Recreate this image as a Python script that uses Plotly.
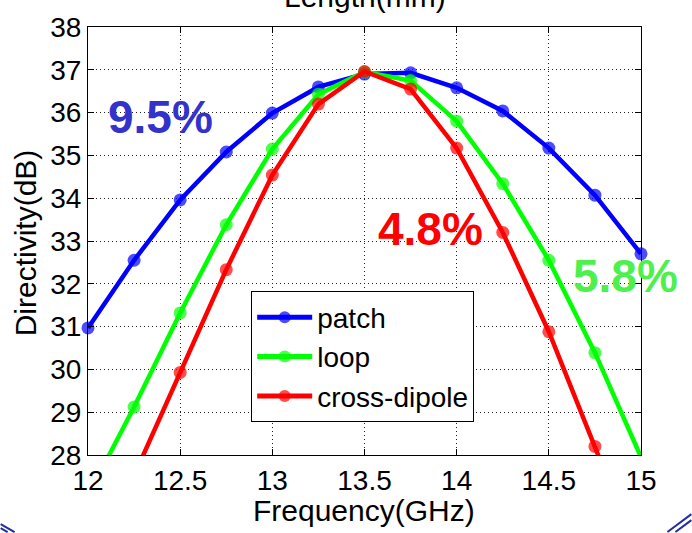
import plotly.graph_objects as go

# ---- data ----
freq = [12.0, 12.25, 12.5, 12.75, 13.0, 13.25, 13.5, 13.75, 14.0, 14.25, 14.5, 14.75, 15.0]
patch = [30.97, 32.55, 33.96, 35.08, 35.99, 36.60, 36.90, 36.93, 36.58, 36.04, 35.17, 34.07, 32.70]
loop = [27.05, 29.12, 31.32, 33.38, 35.15, 36.43, 36.95, 36.75, 35.80, 34.34, 32.55, 30.39, 27.95]
cross_dipole = [None, 27.52, 29.93, 32.33, 34.54, 36.20, 36.96, 36.55, 35.17, 33.20, 30.88, 28.20, 25.50]
series_names = ["patch", "loop", "cross-dipole"]
series_colors = ["#0000ff", "#00ff00", "#ff0000"]
x_ticks = [12, 12.5, 13, 13.5, 14, 14.5, 15]
x_ticklabels = ["12", "12.5", "13", "13.5", "14", "14.5", "15"]
y_ticks = list(range(28, 39))
bandwidth_labels = ["9.5%", "4.8%", "5.8%"]
x_title = "Frequency(GHz)"
y_title = "Directivity(dB)"
top_title = "Length(mm)"
Y_MIN, Y_MAX = 28, 38

FONT = "Liberation Sans, Arial, Helvetica, sans-serif"
W, H = 692, 533
L, R, T, B = 87.5, 641.5, 25.0, 455.5


def px2paper(px, py):
    return (px - L) / (R - L), (B - py) / (B - T)


fig = go.Figure()
for name, vals, col in zip(series_names, [patch, loop, cross_dipole], series_colors):
    sizes = [13 if (v is not None and Y_MIN <= v <= Y_MAX) else 0 for v in vals]
    fig.add_trace(go.Scatter(
        x=freq, y=vals, name=name, mode="lines+markers",
        line=dict(color=col, width=4.5),
        marker=dict(color=col, size=sizes, symbol="circle", line=dict(width=0)),
        cliponaxis=False, connectgaps=False,
    ))

axis_common = dict(
    showline=True, linecolor="black", linewidth=1, mirror="allticks",
    ticks="inside", ticklen=6, tickcolor="black", tickwidth=1,
    showgrid=True, gridcolor="#222222", gridwidth=1, griddash="1px,3px",
    zeroline=False, tickfont=dict(family=FONT, size=28, color="black"),
)

fig.update_xaxes(range=[12, 15], tickvals=x_ticks, ticktext=x_ticklabels, **axis_common)
fig.update_yaxes(range=[Y_MIN, Y_MAX], tickvals=y_ticks, **axis_common)

annots = []
for text, (cx, cy), col in zip(bandwidth_labels,
                               [(160, 116), (431, 228), (625.5, 275.5)],
                               ["rgb(51,51,204)", "#ff0000", "rgb(77,240,77)"]):
    ax_, ay_ = px2paper(cx, cy)
    annots.append(dict(text="<b>%s</b>" % text, x=ax_, y=ay_, xref="paper", yref="paper",
                       xanchor="center", yanchor="middle", showarrow=False,
                       font=dict(family=FONT, size=46, color=col)))
tx, ty = px2paper(365, -6)
annots.append(dict(text=top_title, x=tx, y=ty, xref="paper", yref="paper",
                   xanchor="center", yanchor="middle", showarrow=False,
                   font=dict(family=FONT, size=30, color="black")))
xtx, xty = px2paper(364, 511)
annots.append(dict(text=x_title, x=xtx, y=xty, xref="paper", yref="paper",
                   xanchor="center", yanchor="middle", showarrow=False, borderpad=0,
                   font=dict(family=FONT, size=30, color="black")))
ytx, yty = px2paper(25, 242)
annots.append(dict(text=y_title, x=ytx, y=yty, xref="paper", yref="paper",
                   xanchor="center", yanchor="middle", showarrow=False, textangle=-90, borderpad=0,
                   font=dict(family=FONT, size=30, color="black")))

lx, ly = px2paper(251, 291)

shapes = []
for (x0, y0, x1, y1) in [(0, 525, 14, 533), (0, 529, 7, 533), (668, 533, 692, 515), (676, 533, 692, 521)]:
    p0 = px2paper(x0, y0)
    p1 = px2paper(x1, y1)
    shapes.append(dict(type="line", xref="paper", yref="paper", x0=p0[0], y0=p0[1], x1=p1[0], y1=p1[1],
                       line=dict(color="#1f2f9f", width=2)))

fig.update_layout(
    width=W, height=H,
    margin=dict(l=L, r=W - R, t=T, b=H - B, pad=0),
    paper_bgcolor="white", plot_bgcolor="white",
    font=dict(family=FONT, color="black"),
    legend=dict(x=lx, y=ly, xanchor="left", yanchor="top",
                bgcolor="white", bordercolor="black", borderwidth=1,
                font=dict(family=FONT, size=28, color="black"),
                itemwidth=55, itemsizing="constant", tracegroupgap=0,
                entrywidth=232, entrywidthmode="pixels"),
    annotations=annots,
    shapes=shapes,
    showlegend=True,
)

fig.write_html("out.html")
